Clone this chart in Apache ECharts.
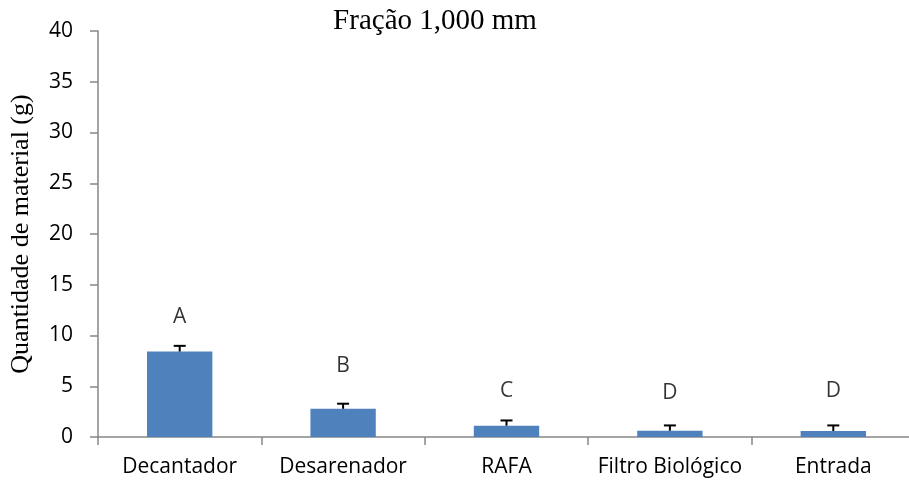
<!DOCTYPE html>
<html lang="pt">
<head>
  <meta charset="UTF-8">
  <title>Fração 1,000 mm</title>
  <script src="https://cdn.jsdelivr.net/npm/echarts@6/dist/echarts.min.js"></script>
  <style>
    html, body { margin: 0; padding: 0; background: #fff; }
    #chart { width: 909px; height: 486px; }
  </style>
</head>
<body>
<div id="chart"></div>
<script>
  // dados
  var categorias = ['Decantador', 'Desarenador', 'RAFA', 'Filtro Biológico', 'Entrada'];
  var medias = [8.42, 2.78, 1.11, 0.62, 0.59];
  var desvios = [0.56, 0.50, 0.52, 0.52, 0.55];
  var letras = ['A', 'B', 'C', 'D', 'D'];
  var alturaLetras = [11.8, 7.0, 4.5, 4.3, 4.5];
  var yTicks = [0, 5, 10, 15, 20, 25, 30, 35, 40];

  var chart = echarts.init(document.getElementById('chart'));

  var corEixo = '#868686';
  var fonteRotulo = '"Open Sans", Lato, sans-serif';
  var fonteSerif = '"Liberation Serif", "Times New Roman", serif';

  chart.setOption({
    animation: false,
    title: {
      text: 'Fração 1,000 mm',
      left: 430,
      top: 2,
      textAlign: 'center',
      textStyle: { fontFamily: fonteSerif, fontSize: 29, fontWeight: 'normal', color: '#000' }
    },
    grid: { left: 98, top: 31, width: 817, bottom: 49, outerBoundsMode: 'none' },
    xAxis: {
      type: 'category',
      data: categorias,
      axisLine: { lineStyle: { color: corEixo, width: 1.5 } },
      axisTick: { show: true, length: 8, lineStyle: { color: corEixo, width: 1.5 } },
      axisLabel: { interval: 0, margin: 20, fontFamily: fonteRotulo, fontSize: 21, color: '#000' }
    },
    yAxis: {
      type: 'value',
      min: yTicks[0],
      max: yTicks[yTicks.length - 1],
      interval: 5,
      name: 'Quantidade de material (g)',
      nameLocation: 'middle',
      nameGap: 64,
      nameTextStyle: { fontFamily: fonteSerif, fontSize: 26, color: '#000' },
      splitLine: { show: false },
      axisLine: { show: true, lineStyle: { color: corEixo, width: 1.5 } },
      axisTick: { show: true, length: 8, lineStyle: { color: corEixo, width: 1.5 } },
      axisLabel: { margin: 25, fontFamily: fonteRotulo, fontSize: 21, color: '#000' }
    },
    series: [
      {
        type: 'bar',
        data: medias,
        barWidth: '40%',
        itemStyle: { color: '#4F81BD' }
      },
      {
        // barras de erro (somente superior)
        type: 'custom',
        data: medias.map(function (m, i) { return [i, m, m + desvios[i]]; }),
        renderItem: function (params, api) {
          var base = api.coord([api.value(0), api.value(1)]);
          var topo = api.coord([api.value(0), api.value(2)]);
          var meia = 6;
          var estilo = { stroke: '#000', lineWidth: 2 };
          return {
            type: 'group',
            children: [
              { type: 'line', shape: { x1: base[0], y1: base[1], x2: topo[0], y2: topo[1] }, style: estilo },
              { type: 'line', shape: { x1: topo[0] - meia, y1: topo[1], x2: topo[0] + meia, y2: topo[1] }, style: estilo }
            ]
          };
        },
        z: 3
      },
      {
        // letras de significância
        type: 'scatter',
        data: alturaLetras.map(function (h, i) { return [i, h]; }),
        symbolSize: 0,
        label: {
          show: true,
          position: 'inside',
          formatter: function (p) { return letras[p.dataIndex]; },
          fontFamily: fonteRotulo,
          fontSize: 21,
          color: '#000'
        },
        silent: true
      }
    ]
  });
</script>
</body>
</html>
